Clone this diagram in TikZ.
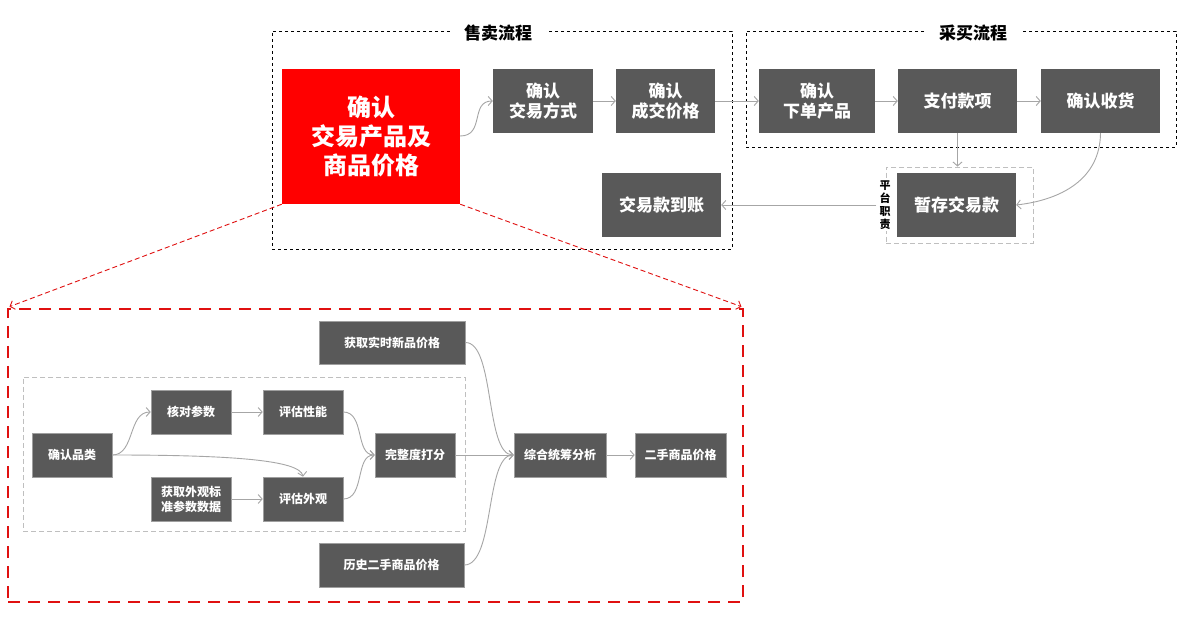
\documentclass[tikz,border=0pt]{standalone}
\usepackage{fontspec}
\newfontfamily\cjk{Noto Sans CJK SC}
\usetikzlibrary{arrows.meta}
\definecolor{boxgray}{HTML}{595959}
\definecolor{arrgray}{HTML}{A6A6A6}
\definecolor{redbox}{HTML}{FF0000}
\definecolor{reddash}{HTML}{E01010}
\definecolor{framegray}{HTML}{BFBFBF}
\begin{document}
\begin{tikzpicture}[x=1pt,y=-1pt,
  box/.style={fill=boxgray,text=white,inner sep=0pt,align=center},
  topbox/.style={box,font=\cjk\bfseries\fontsize{17}{20}\selectfont},
  smallbox/.style={box,draw=gray!75,line width=0.6pt,font=\cjk\bfseries\fontsize{12}{15}\selectfont},
  arr/.style={draw=arrgray,line width=0.9pt,-{Straight Barb[length=4pt,width=9pt]}},
  blackframe/.style={draw=black,line width=0.9pt,dash pattern=on 3pt off 3pt,inner sep=0pt},
  grayframe/.style={draw=framegray,line width=0.9pt,dash pattern=on 5pt off 3pt,inner sep=0pt},
  redframe/.style={draw=reddash,line width=2.6pt,dash pattern=on 12pt off 8pt,inner sep=0pt},
  redarr/.style={draw=reddash,line width=0.9pt,dash pattern=on 5pt off 3pt,-{Straight Barb[length=4pt,width=9pt]}},
  title/.style={fill=white,inner xsep=14pt,inner ysep=1pt,font=\cjk\bfseries\fontsize{17}{20}\selectfont}
]
\useasboundingbox (0,0) rectangle (1181,620);
\fill[white] (0,0) rectangle (1181,620);

% frames
\node[blackframe,minimum width=460pt,minimum height=218pt] (sell) at (502,140) {};
\node[blackframe,minimum width=430pt,minimum height=116pt] (buy) at (961,89) {};
\node[grayframe,minimum width=147pt,minimum height=76pt] (plat) at (959.5,205) {};
\node[title] (tsell) at (498,33) {售卖流程};
\node[title] (tbuy) at (973,33) {采买流程};
\node[fill=white,inner xsep=3pt,inner ysep=2pt,align=center,font=\cjk\bfseries\fontsize{11}{13}\selectfont] (lab) at (885,205) {平\\台\\职\\责};

% top boxes
\node[box,fill=redbox,minimum width=178pt,minimum height=135pt,font=\cjk\bfseries\fontsize{24}{29}\selectfont] (red) at (371,136.5) {确认\\交易产品及\\商品价格};
\node[topbox,minimum width=100pt,minimum height=64pt] (jyfs) at (543,101) {确认\\交易方式};
\node[topbox,minimum width=99pt,minimum height=64pt] (cjjg) at (665.5,101) {确认\\成交价格};
\node[topbox,minimum width=119pt,minimum height=64pt] (dzd) at (661.5,205) {交易款到账};
\node[topbox,minimum width=116pt,minimum height=64pt] (xdcp) at (817,101) {确认\\下单产品};
\node[topbox,minimum width=119pt,minimum height=64pt] (zfkx) at (957.5,101) {支付款项};
\node[topbox,minimum width=119pt,minimum height=64pt] (qrsh) at (1100.5,101) {确认收货};
\node[topbox,minimum width=119pt,minimum height=64pt] (zc) at (956.5,205) {暂存交易款};

% top connectors
\draw[arr] (red.east |- 0,136) .. controls (485,136) and (470,101) .. (jyfs.west);
\draw[arr] (jyfs) -- (cjjg);
\draw[arr] (cjjg) -- (xdcp);
\draw[arr] (xdcp) -- (zfkx);
\draw[arr] (zfkx) -- (qrsh);
\draw[arr] (zfkx.south) -- (zfkx.south |- plat.north);
\draw[arr] (qrsh.south) .. controls (1100,180) and (1060,200) .. (zc.east);
\draw[arr] (lab.west) -- (dzd.east);

% detail frame
\node[redframe,minimum width=735pt,minimum height=293pt] (detail) at (375.5,455.5) {};
\draw[redarr,shorten >=3pt] (red.south west) -- (detail.north west);
\draw[redarr,shorten >=3pt] (red.south east) -- (detail.north east);

% bottom
\node[grayframe,minimum width=442pt,minimum height=154pt] (inner) at (244,454) {};
\node[smallbox,minimum width=146pt,minimum height=43pt] (hqss) at (392,342.5) {获取实时新品价格};
\node[smallbox,minimum width=80pt,minimum height=44pt] (qrpl) at (72,455) {确认品类};
\node[smallbox,minimum width=80pt,minimum height=44pt] (hdcs) at (191,412) {核对参数};
\node[smallbox,minimum width=80pt,minimum height=44pt] (pgxn) at (303,412) {评估性能};
\node[smallbox,minimum width=80pt,minimum height=44pt] (hqwg) at (191,499) {获取外观标\\准参数数据};
\node[smallbox,minimum width=80pt,minimum height=44pt] (pgwg) at (303,499) {评估外观};
\node[smallbox,minimum width=80pt,minimum height=44pt] (wzd) at (415,455) {完整度打分};
\node[smallbox,minimum width=92pt,minimum height=44pt] (zhtc) at (560,455) {综合统筹分析};
\node[smallbox,minimum width=91pt,minimum height=44pt] (escp) at (680.5,455) {二手商品价格};
\node[smallbox,minimum width=145pt,minimum height=44pt] (lses) at (391.5,565) {历史二手商品价格};

% bottom connectors
\draw[arr] (qrpl.east) .. controls (135,455) and (128,412) .. (hdcs.west);
\draw[arr] (qrpl.east) .. controls (230,455) and (300,460) .. (pgwg.north);
\draw[arr] (hdcs) -- (pgxn);
\draw[arr] (hqwg) -- (pgwg);
\draw[arr] (pgxn.east) .. controls (365,412) and (355,455) .. (wzd.west);
\draw[arr] (pgwg.east) .. controls (365,499) and (355,455) .. (wzd.west);
\draw[arr] (wzd) -- (zhtc);
\draw[arr] (hqss.east) .. controls (495,342) and (485,455) .. (zhtc.west);
\draw[arr] (lses.east) .. controls (495,565) and (485,455) .. (zhtc.west);
\draw[arr] (zhtc) -- (escp);
\end{tikzpicture}
\end{document}
